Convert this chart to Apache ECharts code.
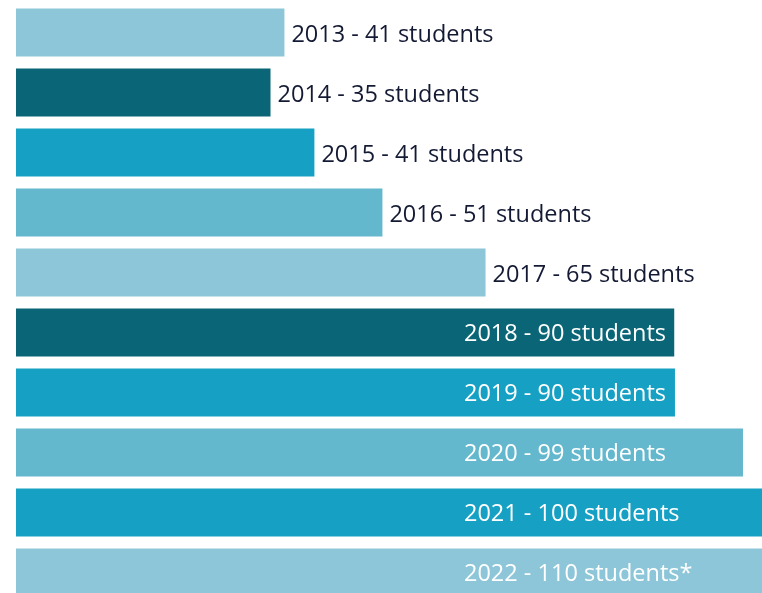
<!DOCTYPE html>
<html>
<head>
<meta charset="utf-8">
<script src="https://cdn.jsdelivr.net/npm/echarts@6/dist/echarts.min.js"></script>
<style>
  html, body { margin: 0; padding: 0; background: #fff; }
  #canvas { width: 762px; height: 593px; }
</style>
</head>
<body>
<div id="canvas"></div>
<script>
// years and counts as printed on the labels
var years = ['2013', '2014', '2015', '2016', '2017', '2018', '2019', '2020', '2021', '2022'];
var students = [41, 35, 41, 51, 65, 90, 90, 99, 100, 110];
var suffix = ['', '', '', '', '', '', '', '', '', '*'];
// bar lengths as drawn in the picture (not quite proportional to the counts)
var barLength = [36.7, 34.8, 40.8, 50.1, 64.2, 90, 90.1, 99.4, 102, 110];
var barColors = ['#8dc6d8', '#0a6677', '#16a1c4', '#63b8cd', '#8dc6d8',
                 '#0a6677', '#16a1c4', '#63b8cd', '#16a1c4', '#8dc6d8'];
var insideFrom = 5; // from 2018 on the label sits inside the bar

var load_chart = function() {
    var myChart = echarts.init(document.getElementById('canvas'));
    var data = [];
    for (var i = 0; i < years.length; i++) {
        var inside = i >= insideFrom;
        data.push({
            value: barLength[i],
            itemStyle: {color: barColors[i]},
            label: inside ? {
                position: [448, '50%'],
                align: 'left',
                verticalAlign: 'middle',
                color: '#ffffff',
                offset: [0, 2]
            } : {
                position: 'right',
                distance: 7,
                color: '#141a33',
                offset: [0, 3]
            }
        });
    }
    var option = {
        animation: false,
        grid: {left: 16, top: 2.5, width: 746, height: 600, outerBoundsMode: 'none', containLabel: false},
        xAxis: {
            type: 'value',
            min: 0,
            max: 102,
            show: false
        },
        yAxis: {
            type: 'category',
            data: years,
            inverse: true,
            show: false
        },
        series: [{
            type: 'bar',
            data: data,
            barWidth: 48,
            clip: true,
            label: {
                show: true,
                fontFamily: 'Open Sans',
                fontSize: 23.5,
                formatter: function(p) {
                    return years[p.dataIndex] + ' - ' + students[p.dataIndex] + ' students' + suffix[p.dataIndex];
                }
            }
        }]
    };
    myChart.setOption(option);
};

load_chart();
</script>
</body>
</html>
